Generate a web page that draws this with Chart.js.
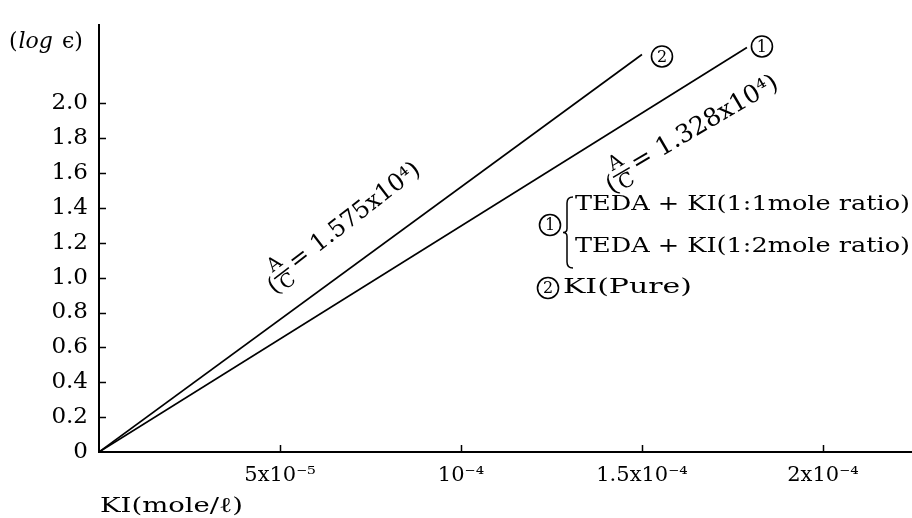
<!DOCTYPE html>
<html>
<head>
<meta charset="utf-8">
<script src="https://cdn.jsdelivr.net/npm/chart.js@4.4.1/dist/chart.umd.min.js"></script>
<style>
  html, body { margin: 0; padding: 0; background: #fff; }
  #wrap { width: 912px; height: 518px; }
</style>
</head>
<body>
<div id="wrap"><canvas id="chart"></canvas></div>
<script>
// curve 1: TEDA+KI, curve 2: KI pure
const lineNames = ['1', '2'];
const kiConc1 = [0, 1.79e-4];
const logEps1 = [0, 2.32];
const kiConc2 = [0, 1.50e-4];
const logEps2 = [0, 2.28];
const slopeTexts = ['1.328x10⁴', '1.575x10⁴'];

const xTickValues = [5e-5, 1e-4, 1.5e-4, 2e-4];
const xTickLabels = ['5x10⁻⁵', '10⁻⁴', '1.5x10⁻⁴', '2x10⁻⁴'];
const yTickValues = [0, 0.2, 0.4, 0.6, 0.8, 1.0, 1.2, 1.4, 1.6, 1.8, 2.0];
const yTickLabels = ['0', '0.2', '0.4', '0.6', '0.8', '1.0', '1.2', '1.4', '1.6', '1.8', '2.0'];

const legendLines = ['TEDA + KI(1:1mole ratio)', 'TEDA + KI(1:2mole ratio)', 'KI(Pure)'];
const xTitle = 'KI(mole/ℓ)';

const SERIF = '"DejaVu Serif", "Liberation Serif", serif';

function toPoints(xs, ys) {
    return xs.map((v, i) => ({ x: v, y: ys[i] }));
}

// text squeezed/stretched to a given width
function fitText(ctx, s, x, yc, w) {
    const m = ctx.measureText(s).width;
    ctx.save();
    ctx.translate(x, yc);
    ctx.scale(w / m, 1);
    ctx.textAlign = 'left';
    ctx.textBaseline = 'middle';
    ctx.fillText(s, 0, 0);
    ctx.restore();
}

function circled(ctx, cx, cy, s) {
    ctx.save();
    ctx.lineWidth = 1.6;
    ctx.beginPath();
    ctx.arc(cx, cy, 10.5, 0, Math.PI * 2);
    ctx.stroke();
    ctx.font = '16px ' + SERIF;
    ctx.textAlign = 'center';
    ctx.textBaseline = 'middle';
    ctx.fillText(s, cx, cy + 1);
    ctx.restore();
}

function slopeLabel(ctx, cx, cy, deg, value, size) {
    const big = size + 'px ' + SERIF, small = Math.round(size * 0.78) + 'px ' + SERIF;
    ctx.save();
    ctx.translate(cx, cy);
    ctx.rotate(deg * Math.PI / 180);
    ctx.textBaseline = 'middle';
    ctx.font = big;
    const wp = ctx.measureText('(').width;
    const rest = '= ' + value + ')';
    const wr = ctx.measureText(rest).width;
    ctx.font = small;
    const wf = Math.max(ctx.measureText('A').width, ctx.measureText('C').width) + 4;
    const total = wp + wf + 4 + wr;
    let x0 = -total / 2;
    ctx.font = big;
    ctx.textAlign = 'left';
    ctx.fillText('(', x0, 8);
    x0 += wp;
    ctx.font = small;
    ctx.textAlign = 'center';
    ctx.fillText('A', x0 + wf / 2, -10);
    ctx.fillText('C', x0 + wf / 2, 12);
    ctx.lineWidth = 1.5;
    ctx.beginPath();
    ctx.moveTo(x0, 1);
    ctx.lineTo(x0 + wf, 1);
    ctx.stroke();
    x0 += wf + 4;
    ctx.font = big;
    ctx.textAlign = 'left';
    ctx.fillText(rest, x0, 1);
    ctx.restore();
}

const decorations = {
    id: 'decorations',
    afterDraw(chart, args, opts) {
        const { ctx, chartArea, scales: { x, y } } = chart;
        ctx.save();
        ctx.strokeStyle = '#000';
        ctx.fillStyle = '#000';

        // small inward ticks
        ctx.lineWidth = 1.5;
        ctx.beginPath();
        yTickValues.forEach(v => {
            if (v === 0) return;
            const py = Math.round(y.getPixelForValue(v)) + 0.5;
            ctx.moveTo(chartArea.left, py);
            ctx.lineTo(chartArea.left + 7, py);
        });
        xTickValues.forEach(v => {
            const px = Math.round(x.getPixelForValue(v)) + 0.5;
            ctx.moveTo(px, chartArea.bottom);
            ctx.lineTo(px, chartArea.bottom - 7);
        });
        ctx.stroke();

        // circled numbers at line ends
        chart.data.datasets.forEach((ds, i) => {
            const last = ds.data[ds.data.length - 1];
            const off = opts.endOffsets[i];
            circled(ctx, x.getPixelForValue(last.x) + off[0], y.getPixelForValue(last.y) + off[1], lineNames[i]);
        });

        // slope annotations
        opts.slopes.forEach((s, i) => {
            slopeLabel(ctx, x.getPixelForValue(s.x), y.getPixelForValue(s.y), s.angle, slopeTexts[i], s.size);
        });

        // axis titles
        ctx.font = '22px ' + SERIF;
        ctx.textBaseline = 'middle';
        ctx.textAlign = 'left';
        let tx = 9;
        ctx.fillText('(', tx, 42); tx += ctx.measureText('(').width + 1;
        ctx.font = 'italic 22px ' + SERIF;
        ctx.fillText('log', tx, 42); tx += ctx.measureText('log').width + 9;
        ctx.font = '22px ' + SERIF;
        ctx.fillText('ϵ)', tx, 42);

        ctx.font = '21px ' + SERIF;
        fitText(ctx, xTitle, 100, 507, 143);

        // legend block
        const lg = opts.legend;
        circled(ctx, lg.x, lg.y1c, lineNames[0]);
        ctx.lineWidth = 1.5;
        ctx.beginPath();
        const bx = lg.x + 17, bt = lg.y1c - 28, bb = lg.y1c + 43, bm = (bt + bb) / 2;
        ctx.moveTo(bx + 6, bt);
        ctx.quadraticCurveTo(bx, bt, bx, bt + 6);
        ctx.lineTo(bx, bm - 4);
        ctx.quadraticCurveTo(bx, bm, bx - 4, bm);
        ctx.quadraticCurveTo(bx, bm, bx, bm + 4);
        ctx.lineTo(bx, bb - 6);
        ctx.quadraticCurveTo(bx, bb, bx + 6, bb);
        ctx.stroke();
        ctx.font = '21px ' + SERIF;
        fitText(ctx, legendLines[0], lg.x + 25, bt + 8, 335);
        fitText(ctx, legendLines[1], lg.x + 25, bb - 21, 335);
        circled(ctx, lg.x - 2, lg.y2c, lineNames[1]);
        fitText(ctx, legendLines[2], lg.x + 13, lg.y2c, 129);

        ctx.restore();
    }
};

const ctx = document.getElementById('chart').getContext('2d');
new Chart(ctx, {
    type: 'scatter',
    data: {
        datasets: [
            {
                label: lineNames[0],
                data: toPoints(kiConc1, logEps1),
                showLine: true,
                borderColor: '#000',
                borderWidth: 1.7,
                pointRadius: 0
            },
            {
                label: lineNames[1],
                data: toPoints(kiConc2, logEps2),
                showLine: true,
                borderColor: '#000',
                borderWidth: 1.7,
                pointRadius: 0
            }
        ]
    },
    options: {
        responsive: true,
        maintainAspectRatio: false,
        animation: false,
        layout: { padding: { top: 8, right: 0, left: 0, bottom: 0 } },
        plugins: {
            legend: { display: false },
            tooltip: { enabled: false },
            decorations: {
                endOffsets: [[15, -1], [20, 2]],
                slopes: [
                    { x: 1.633e-4, y: 1.84, angle: -30.3, size: 25 },
                    { x: 6.71e-5, y: 1.30, angle: -37.7, size: 24 }
                ],
                legend: { x: 550, y1c: 225, y2c: 288 }
            }
        },
        scales: {
            x: {
                type: 'linear',
                min: 0,
                max: 2.246e-4,
                grid: { display: true, drawOnChartArea: false, drawTicks: false },
                border: { display: true, color: '#000', width: 2 },
                afterBuildTicks: s => { s.ticks = xTickValues.map(v => ({ value: v })); },
                afterFit: s => { s.height = 66; },
                ticks: {
                    color: '#000',
                    padding: 11,
                    maxRotation: 0,
                    font: { family: SERIF, size: 21 },
                    callback: (v, i) => xTickLabels[i]
                }
            },
            y: {
                type: 'linear',
                min: 0,
                max: 2.45,
                grid: { display: true, drawOnChartArea: false, drawTicks: false },
                border: { display: true, color: '#000', width: 2 },
                afterBuildTicks: s => { s.ticks = yTickValues.map(v => ({ value: v })); },
                afterFit: s => { s.width = 99; },
                ticks: {
                    color: '#000',
                    padding: 11,
                    font: { family: SERIF, size: 23 },
                    callback: (v, i) => yTickLabels[i]
                }
            }
        }
    },
    plugins: [decorations]
});
</script>
</body>
</html>
